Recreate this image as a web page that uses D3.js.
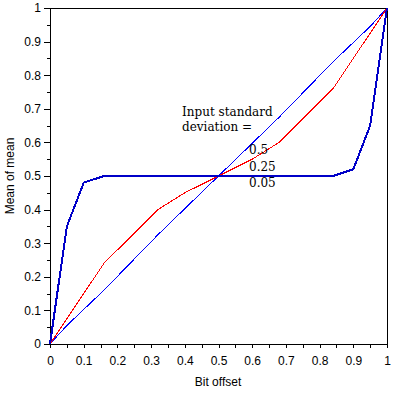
<!DOCTYPE html>
<html>
<head>
<meta charset="utf-8">
<script src="https://cdn.jsdelivr.net/npm/d3@7"></script>
<style>
  body { margin: 0; background: #fff; }
  svg { display: block; }
</style>
</head>
<body>
<svg id="chart" width="397" height="393"></svg>
<script>
// ---- data ----
const xTickValues = [0, 0.1, 0.2, 0.3, 0.4, 0.5, 0.6, 0.7, 0.8, 0.9, 1];
const yTickValues = [0, 0.1, 0.2, 0.3, 0.4, 0.5, 0.6, 0.7, 0.8, 0.9, 1];
const minorTickValues = [0.05, 0.15, 0.25, 0.35, 0.45, 0.55, 0.65, 0.75, 0.85, 0.95];

const sd50X = [0, 0.05, 0.16, 0.32, 0.5, 0.68, 0.84, 0.95, 1];
const sd50Y = [0, 0.055, 0.16, 0.325, 0.5, 0.675, 0.84, 0.945, 1];

const sd25X = [0, 0.16, 0.32, 0.4, 0.5, 0.6, 0.68, 0.84, 1];
const sd25Y = [0, 0.24, 0.40, 0.45, 0.5, 0.55, 0.60, 0.76, 1];

const sd05X = [0, 0.05, 0.1, 0.16, 0.84, 0.9, 0.95, 1];
const sd05Y = [0, 0.35, 0.48, 0.5, 0.5, 0.52, 0.65, 1];

const legendTitle = ["Input standard", "deviation ="];
const legendLabels = ["0.5", "0.25", "0.05"];
const xLabel = "Bit offset";
const yLabel = "Mean of mean";

// ---- chart ----
const svg = d3.select("#chart");
const x = d3.scaleLinear().domain([0, 1]).range([50, 387]);
const y = d3.scaleLinear().domain([0, 1]).range([344, 8]);

const fmt = d => (d === 0 || d === 1) ? String(d) : d3.format(".1f")(d);
const axisFont = "Liberation Sans, Arial, sans-serif";

// frame (top and right)
svg.append("path")
  .attr("d", `M${x(0)},${y(1)}H${x(1)}V${y(0)}`)
  .attr("fill", "none").attr("stroke", "#000").attr("stroke-width", 1)
  .attr("shape-rendering", "crispEdges");

// x axis
const gx = svg.append("g").attr("transform", `translate(0,${y(0)})`)
  .call(d3.axisBottom(x).tickValues(xTickValues).tickFormat(fmt).tickSize(4).tickSizeOuter(0));
svg.append("g").attr("transform", `translate(0,${y(0)})`)
  .call(d3.axisBottom(x).tickValues(minorTickValues).tickFormat("").tickSize(4).tickSizeOuter(0))
  .call(g => g.select(".domain").remove());

// y axis
const gy = svg.append("g").attr("transform", `translate(${x(0)},0)`)
  .call(d3.axisLeft(y).tickValues(yTickValues).tickFormat(fmt).tickSize(6).tickSizeOuter(0));
svg.append("g").attr("transform", `translate(${x(0)},0)`)
  .call(d3.axisLeft(y).tickValues(minorTickValues).tickFormat("").tickSize(3).tickSizeOuter(0))
  .call(g => g.select(".domain").remove());

svg.selectAll(".tick line, .domain").attr("stroke", "#000").attr("shape-rendering", "crispEdges");
svg.selectAll(".tick text").attr("font-family", axisFont).attr("font-size", 12).attr("fill", "#000");
gx.selectAll(".tick text").attr("dy", "1.2em");
gy.selectAll(".tick text").attr("x", -9);

// axis titles
svg.append("text").attr("x", 218).attr("y", 386).attr("text-anchor", "middle")
  .attr("font-family", axisFont).attr("font-size", 12).text(xLabel);
svg.append("text").attr("transform", `translate(14,${y(0.5)}) rotate(-90)`)
  .attr("text-anchor", "middle").attr("font-family", axisFont).attr("font-size", 12).text(yLabel);

// lines
const line = d3.line().x(d => x(d[0])).y(d => y(d[1]));
const series = [
  { xs: sd50X, ys: sd50Y, color: "#0000ff", width: 1 },
  { xs: sd25X, ys: sd25Y, color: "#ff0000", width: 1 },
  { xs: sd05X, ys: sd05Y, color: "#0000c8", width: 2 }
];
series.forEach(s => {
  svg.append("path")
    .datum(d3.zip(s.xs, s.ys))
    .attr("d", line)
    .attr("fill", "none")
    .attr("stroke", s.color)
    .attr("stroke-width", s.width)
    .attr("shape-rendering", "crispEdges");
});

// legend annotations
const serif = "DejaVu Serif, serif";
svg.append("text").attr("x", 182).attr("y", 116).attr("font-family", serif).attr("font-size", 12).text(legendTitle[0]);
svg.append("text").attr("x", 182).attr("y", 131).attr("font-family", serif).attr("font-size", 12).text(legendTitle[1]);
legendLabels.forEach((t, i) => {
  svg.append("text").attr("x", 249).attr("y", 154 + i * 16.5)
    .attr("font-family", serif).attr("font-size", 12).text(t);
});
</script>
</body>
</html>
